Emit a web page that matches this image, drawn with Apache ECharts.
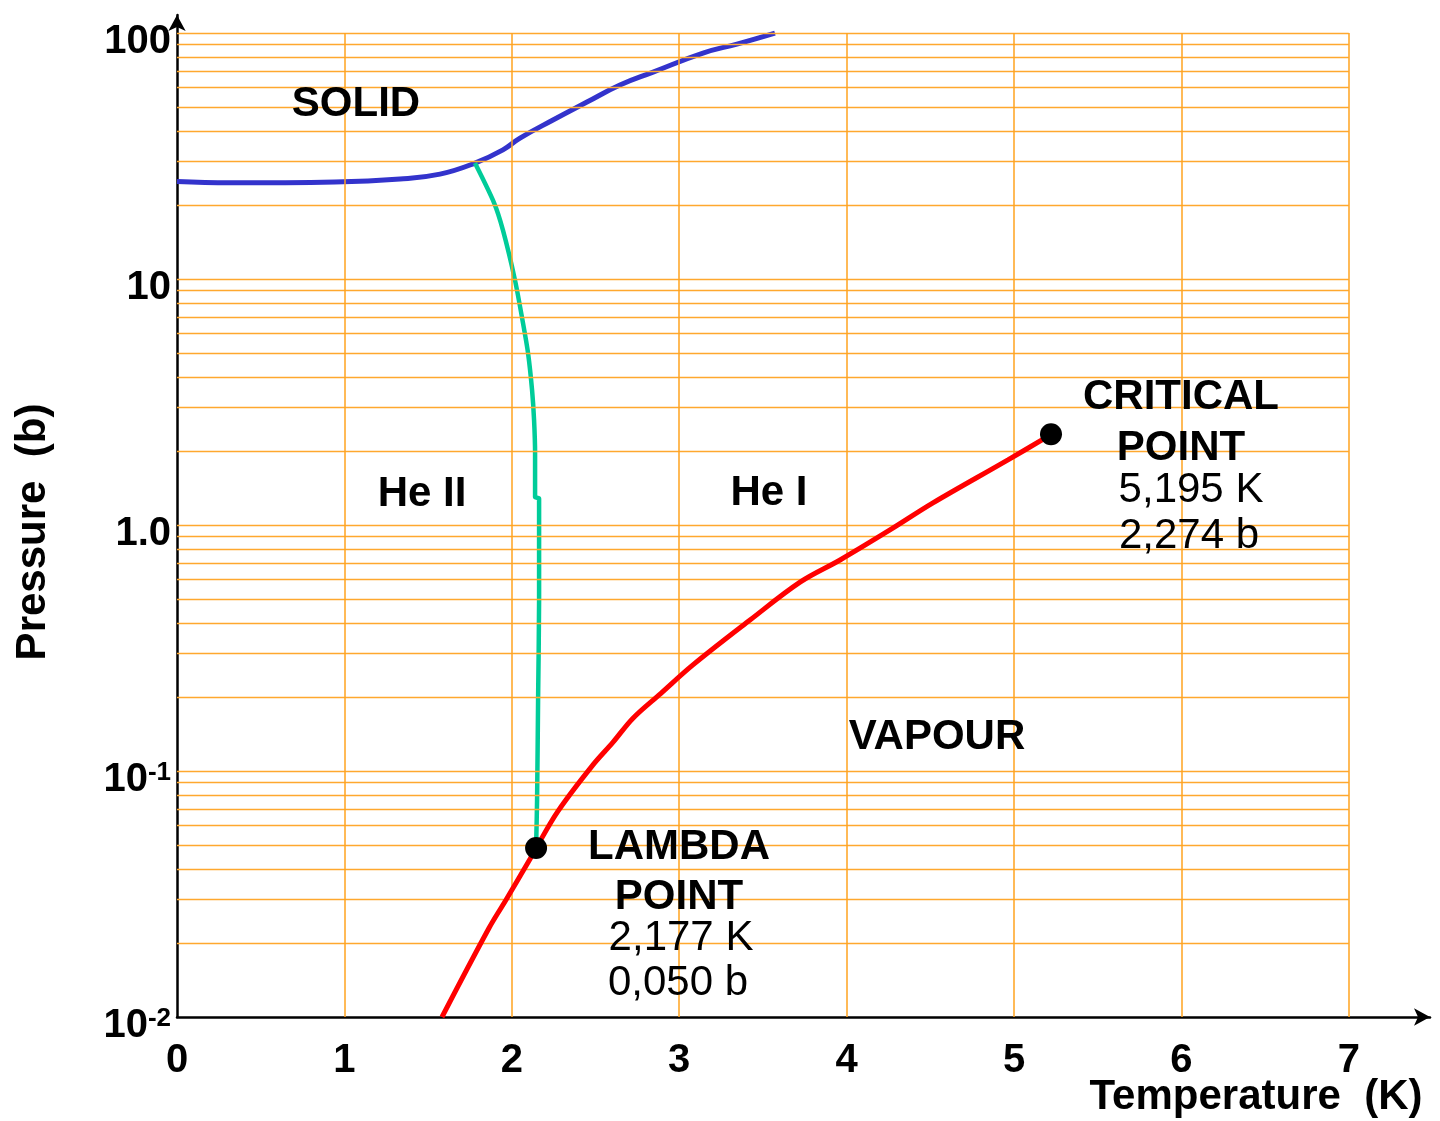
<!DOCTYPE html>
<html><head><meta charset="utf-8">
<script src="https://cdn.jsdelivr.net/npm/echarts@6/dist/echarts.min.js"></script>
<style>html,body{margin:0;padding:0;background:#fff}#c{width:1440px;height:1121px}</style>
</head><body><div id="c"></div>
<script>
// Melting curve (solid / liquid)
const meltT = [0, 0.317, 0.944, 1.332, 1.571, 1.780, 1.947, 2.049, 2.246, 2.449, 2.646, 2.844, 3.142, 3.345, 3.572];
const meltP = [24.9, 24.6, 24.8, 25.5, 26.7, 29.6, 33.5, 37.4, 44.3, 52.4, 61.5, 69.4, 82.9, 90.2, 100];
// Lambda line (He I / He II)
const lambdaT = [1.780, 1.894, 1.947, 2.019, 2.067, 2.097, 2.121, 2.133, 2.139, 2.139, 2.163, 2.163, 2.157, 2.151, 2.145];
const lambdaP = [29.6, 20.4, 15.8, 9.9, 6.62, 5.0, 3.54, 2.67, 1.96, 1.30, 1.28, 0.495, 0.194, 0.0762, 0.0486];
// Vapour pressure curve
const vapT = [1.583, 1.864, 1.965, 2.109, 2.145, 2.276, 2.479, 2.605, 2.724, 2.891, 3.082, 3.423, 3.722, 3.961, 4.259, 4.516, 4.964, 5.215];
const vapP = [0.01, 0.0230, 0.0299, 0.0439, 0.0486, 0.0687, 0.1047, 0.131, 0.164, 0.207, 0.270, 0.411, 0.586, 0.721, 0.955, 1.23, 1.84, 2.32];
// Special points: lambda point, critical point
const pointT = [2.145, 5.221];
const pointP = [0.0486, 2.34];
// Ticks
const xTickValues = [0, 1, 2, 3, 4, 5, 6, 7];
const yTickValues = [0.01, 0.1, 1, 10, 100];
const yTickLabels = ['10{s|-2}', '10{s|-1}', '1.0', '10', '100'];
const gridMantissas = [1, 2, 3, 4, 5, 6, 7, 8, 9];
const gridExponents = [-2, -1, 0, 1];

const FONT = "'Liberation Sans', Arial, sans-serif";
const zip = (a, b) => a.map((v, i) => [v, b[i]]);

const hMarks = [];
gridExponents.forEach(e => gridMantissas.forEach(m => {
  if (e === -2 && m === 1) return;
  const v = m * Math.pow(10, e);
  hMarks.push([{ coord: [0, v] }, { coord: [7, v] }]);
}));
hMarks.push([{ coord: [0, 100] }, { coord: [7, 100] }]);
const vMarks = xTickValues.filter(v => v > 0).map(v => [{ coord: [v, 0.01] }, { coord: [v, 100] }]);

const markCfg = (data, color, width) => ({
  silent: true, symbol: ['none', 'none'], animation: false,
  label: { show: false },
  emphasis: { disabled: true },
  lineStyle: { type: 'solid', color: color, width: width, opacity: 1 },
  data: data
});

const chart = echarts.init(document.getElementById('c'), null, { renderer: 'canvas' });
chart.setOption({
  backgroundColor: '#ffffff',
  animation: false,
  grid: { left: 177, right: 10, top: 15, bottom: 104 },
  xAxis: {
    type: 'value', min: 0, max: 7.485,
    axisLine: { onZero: false, lineStyle: { color: '#000', width: 2.5 }, symbol: ['none', 'arrow'], symbolSize: [13, 16] },
    axisTick: { show: false },
    splitLine: { show: false },
    minorTick: { show: false },
    minorSplitLine: { show: false },
    axisLabel: {
      margin: 24, color: '#000', fontFamily: FONT, fontWeight: 'bold', fontSize: 40,
      formatter: v => xTickValues.includes(v) ? String(v) : ''
    }
  },
  yAxis: {
    type: 'log', logBase: 10, min: 0.01, max: 118.4,
    axisLine: { onZero: false, lineStyle: { color: '#000', width: 2.5 }, symbol: ['none', 'arrow'], symbolSize: [13, 16] },
    axisTick: { show: false },
    splitLine: { show: false },
    minorTick: { show: false },
    minorSplitLine: { show: false },
    axisLabel: {
      margin: 6, color: '#000', fontFamily: FONT, fontWeight: 'bold', fontSize: 40,
      padding: [18, 0, 0, 0],
      formatter: v => {
        const lg = Math.log10(v);
        const e = Math.round(lg);
        if (Math.abs(lg - e) > 1e-6) return '';
        const i = yTickValues.findIndex(t => Math.abs(Math.log10(t) - e) < 1e-6);
        return i >= 0 ? yTickLabels[i] : '';
      },
      rich: {
        s: { fontSize: 26, fontWeight: 'bold', fontFamily: FONT, color: '#000', verticalAlign: 'top', lineHeight: 26 }
      }
    }
  },
  series: [
    {
      type: 'line', name: 'hgrid', data: [[0, 0.01]], showSymbol: false, silent: true, z: 1,
      lineStyle: { width: 0 },
      markLine: markCfg(hMarks, '#FFA82E', 1.4)
    },
    {
      type: 'line', name: 'vgrid', data: [[0, 0.01]], showSymbol: false, silent: true, z: 1,
      lineStyle: { width: 0 },
      markLine: markCfg(vMarks, '#FFA31F', 1.5)
    },
    {
      type: 'line', name: 'lambda', data: zip(lambdaT, lambdaP), showSymbol: false, smooth: 0.25, z: 4,
      lineStyle: { color: '#00CC99', width: 4.5 }
    },
    {
      type: 'line', name: 'melting', data: zip(meltT, meltP), showSymbol: false, smooth: 0.45, z: 3,
      lineStyle: { color: '#3333CC', width: 5 }
    },
    {
      type: 'line', name: 'vapour', data: zip(vapT, vapP), showSymbol: false, smooth: 0.35, z: 5,
      lineStyle: { color: '#FF0000', width: 5 }
    },
    {
      type: 'scatter', data: zip(pointT, pointP), symbol: 'circle', symbolSize: 22, z: 6,
      itemStyle: { color: '#000', opacity: 1 }
    }
  ],
  graphic: [
    { type: 'text', x: 356, y: 104, z: 10, style: { text: 'SOLID', font: `bold 42px ${FONT}`, fill: '#000', align: 'center', verticalAlign: 'middle' } },
    { type: 'text', x: 422, y: 494, z: 10, style: { text: 'He II', font: `bold 42px ${FONT}`, fill: '#000', align: 'center', verticalAlign: 'middle' } },
    { type: 'text', x: 769, y: 493, z: 10, style: { text: 'He I', font: `bold 42px ${FONT}`, fill: '#000', align: 'center', verticalAlign: 'middle' } },
    { type: 'text', x: 937, y: 737, z: 10, style: { text: 'VAPOUR', font: `bold 42px ${FONT}`, fill: '#000', align: 'center', verticalAlign: 'middle' } },
    { type: 'text', x: 1181, y: 397, z: 10, style: { text: 'CRITICAL', font: `bold 42px ${FONT}`, fill: '#000', align: 'center', verticalAlign: 'middle' } },
    { type: 'text', x: 1181, y: 448, z: 10, style: { text: 'POINT', font: `bold 42px ${FONT}`, fill: '#000', align: 'center', verticalAlign: 'middle' } },
    { type: 'text', x: 1191, y: 490, z: 10, style: { text: '5,195 K', font: `42px ${FONT}`, fill: '#000', align: 'center', verticalAlign: 'middle' } },
    { type: 'text', x: 1189, y: 536, z: 10, style: { text: '2,274 b', font: `42px ${FONT}`, fill: '#000', align: 'center', verticalAlign: 'middle' } },
    { type: 'text', x: 679, y: 847, z: 10, style: { text: 'LAMBDA', font: `bold 42px ${FONT}`, fill: '#000', align: 'center', verticalAlign: 'middle' } },
    { type: 'text', x: 679, y: 897, z: 10, style: { text: 'POINT', font: `bold 42px ${FONT}`, fill: '#000', align: 'center', verticalAlign: 'middle' } },
    { type: 'text', x: 681, y: 938, z: 10, style: { text: '2,177 K', font: `42px ${FONT}`, fill: '#000', align: 'center', verticalAlign: 'middle' } },
    { type: 'text', x: 678, y: 983, z: 10, style: { text: '0,050 b', font: `42px ${FONT}`, fill: '#000', align: 'center', verticalAlign: 'middle' } },
    { type: 'text', x: 1256, y: 1097, z: 10, style: { text: 'Temperature  (K)', font: `bold 42px ${FONT}`, fill: '#000', align: 'center', verticalAlign: 'middle' } },
    { type: 'text', x: 33, y: 532, rotation: Math.PI / 2, z: 10, style: { text: 'Pressure  (b)', font: `bold 42px ${FONT}`, fill: '#000', align: 'center', verticalAlign: 'middle' } }
  ]
});
</script>
</body></html>
